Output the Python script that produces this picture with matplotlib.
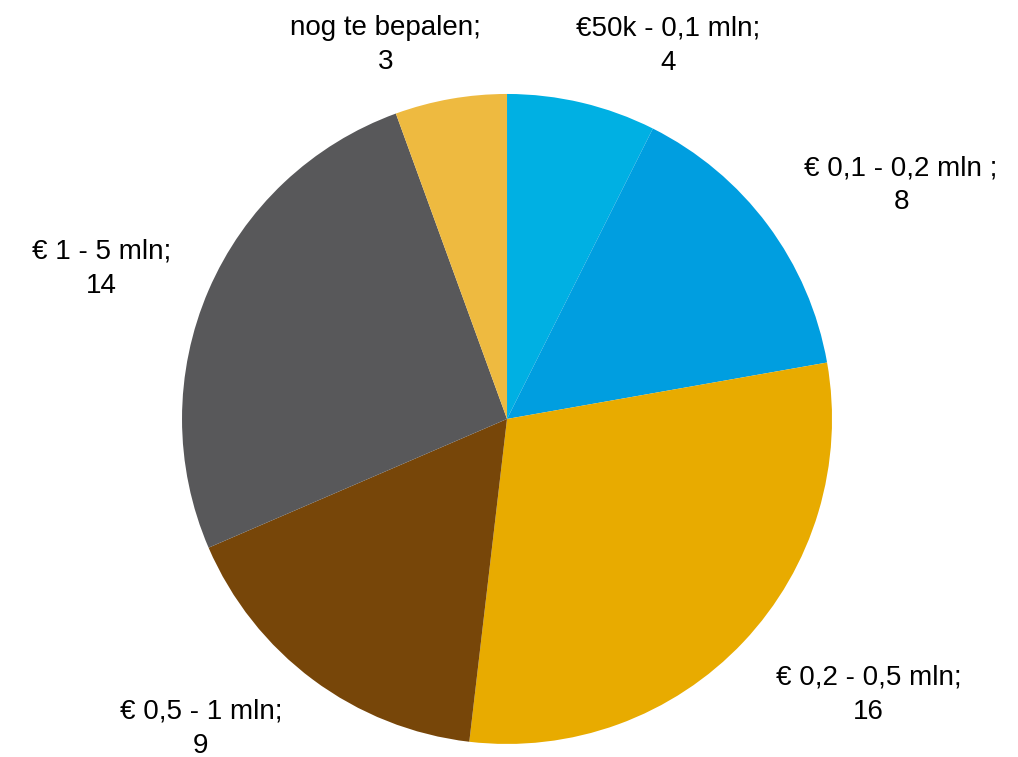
import numpy as np
import matplotlib.pyplot as plt

plt.rcParams['font.family'] = ['Liberation Sans', 'DejaVu Sans']

categories = ['€50k - 0,1 mln;', '€ 0,1 - 0,2 mln ;', '€ 0,2 - 0,5 mln;',
              '€ 0,5 - 1 mln;', '€ 1 - 5 mln;', 'nog te bepalen;']
values = [4, 8, 16, 9, 14, 3]
colors = ['#00B0E3', '#009EE0', '#E8AB00', '#774609', '#58585A', '#EEBA40']

# label placement (radius as fraction of pie radius, nudge in degrees from wedge middle)
label_r = [1.25, 1.41, 1.40, 1.34, 1.33, 1.21]
label_nudge = [-10, -6, 6, -8, 3, 8]

fig = plt.figure(figsize=(10.18, 7.57), dpi=100)
ax = fig.add_axes([0.1788, 0.0172, 0.6385, 0.8587])

wedges, _ = ax.pie(values, colors=colors, startangle=90, counterclock=False,
                   radius=1, wedgeprops=dict(linewidth=0))

for w, cat, v, r, nudge in zip(wedges, categories, values, label_r, label_nudge):
    mid = np.deg2rad((w.theta1 + w.theta2) / 2 + nudge)
    ax.text(r * np.cos(mid), r * np.sin(mid), '{}\n{}'.format(cat, v),
            ha='center', va='center', fontsize=20, color='black',
            linespacing=1.4)

ax.set_xlim(-1, 1)
ax.set_ylim(-1, 1)
ax.set_aspect('equal')
ax.axis('off')

fig.savefig('out.png', dpi=100)
